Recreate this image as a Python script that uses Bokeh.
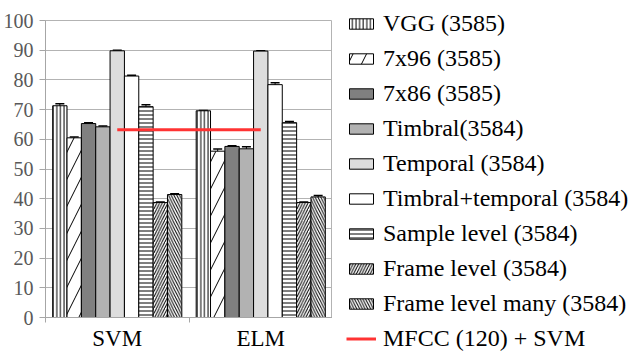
from bokeh.plotting import figure
from bokeh.layouts import row
from bokeh.models import (ColumnDataSource, Range1d, LinearAxis, FixedTicker,
                          Whisker, TeeHead, Legend, LegendItem)
from bokeh.embed import file_html
from bokeh.resources import INLINE

categories = ["SVM", "ELM"]
series = ["VGG (3585)", "7x96 (3585)", "7x86 (3585)", "Timbral(3584)",
          "Temporal (3584)", "Timbral+temporal (3584)", "Sample level (3584)",
          "Frame level (3584)", "Frame level many (3584)"]
svm_values = [71.3, 60.5, 65.3, 64.2, 89.8, 81.3, 71.0, 38.7, 41.4]
elm_values = [69.6, 56.0, 57.6, 56.8, 89.7, 78.4, 65.6, 38.7, 40.6]
svm_errors = [0.7, 0.3, 0.3, 0.3, 0.2, 0.3, 0.6, 0.2, 0.3]
elm_errors = [0.1, 0.7, 0.2, 0.7, 0.1, 0.6, 0.4, 0.2, 0.5]
mfcc_label = "MFCC (120) + SVM"
mfcc_value = 63.2
y_ticks = [0, 10, 20, 30, 40, 50, 60, 70, 80, 90, 100]

fills = ["white", "white", "#808080", "#b2b2b2", "#dddddd", "white", "white", "white", "white"]
hatches = ["vertical_line", "right_diagonal_line", None, None, None, None, "horizontal_line",
           "right_diagonal_line", "left_diagonal_line"]
hatch_scales = [3.6, 27, 12, 12, 12, 12, 4, 5.5, 5.5]
mfcc_color = "#ff3333"

FONT = "Liberation Serif"
GRAY = "#a6a6a6"

ncat = len(categories)
cat_centers = [k + 0.5 for k in range(ncat)]
cat_edges = list(range(ncat + 1))

p = figure(x_range=Range1d(0, ncat), y_range=Range1d(0, 100), width=332, height=362,
           output_backend="svg", toolbar_location=None, x_axis_location=None,
           min_border_left=45, min_border_right=0, min_border_top=20,
           min_border_bottom=45)
p.background_fill_color = "white"
p.border_fill_color = "white"
p.outline_line_color = "#b3b3b3"

tick_axis = LinearAxis(ticker=FixedTicker(ticks=cat_edges),
                       major_label_overrides={e: "" for e in cat_edges},
                       major_label_text_font_size="2px", axis_line_color=GRAY,
                       major_tick_line_color=GRAY, major_tick_out=5, major_tick_in=0,
                       minor_tick_line_color=None, major_label_standoff=0)
p.add_layout(tick_axis, "below")
cat_axis = LinearAxis(ticker=FixedTicker(ticks=cat_centers),
                      major_label_overrides={c: lab for c, lab in zip(cat_centers, categories)},
                      axis_line_color=None, major_tick_line_color=None,
                      minor_tick_line_color=None,
                      major_label_text_font=FONT, major_label_text_font_size="23px",
                      major_label_text_color="black", major_label_standoff=-3)
p.add_layout(cat_axis, "below")

p.yaxis.ticker = FixedTicker(ticks=y_ticks)
p.yaxis.axis_line_color = GRAY
p.yaxis.major_tick_line_color = GRAY
p.yaxis.major_tick_out = 6
p.yaxis.major_tick_in = 0
p.yaxis.minor_tick_line_color = None
p.yaxis.major_label_text_font = FONT
p.yaxis.major_label_text_font_size = "20px"
p.yaxis.major_label_text_color = "#595959"
p.yaxis.major_label_standoff = 6
p.ygrid.grid_line_color = "#b3b3b3"
p.xgrid.visible = False

# separate panel holding only the legend; its renderers are hidden, only their swatches show
lg = figure(x_range=Range1d(0, 1), y_range=Range1d(-2, -1), width=306, height=362,
            output_backend="svg", toolbar_location=None, x_axis_location=None,
            y_axis_location=None, min_border_left=0, min_border_right=0,
            min_border_top=0, min_border_bottom=0)
lg.outline_line_color = None
lg.xgrid.visible = False
lg.ygrid.visible = False
for fig in (p, lg):
    try:
        fig.frame_align = False
    except Exception:
        pass

items = []
n = len(series)
bar_w = 0.9 / n
for i in range(n):
    off = (i - (n - 1) / 2) * bar_w
    src = ColumnDataSource(dict(
        x=[c + off for c in cat_centers],
        top=[svm_values[i], elm_values[i]],
        upper=[svm_values[i] + svm_errors[i], elm_values[i] + elm_errors[i]],
        lower=[svm_values[i] - svm_errors[i], elm_values[i] - elm_errors[i]],
    ))
    kw = {}
    if hatches[i]:
        kw = dict(hatch_pattern=hatches[i], hatch_color="black",
                  hatch_scale=hatch_scales[i], hatch_weight=1)
    p.vbar(x="x", top="top", bottom=0, width=bar_w, source=src,
           fill_color=fills[i], line_color="black", line_width=1, **kw)
    w = Whisker(source=src, base="x", upper="upper", lower="lower",
                line_color="black", line_width=1,
                upper_head=TeeHead(size=9, line_color="black", line_width=1.5),
                lower_head=TeeHead(size=9, line_color="black", line_width=1.5))
    p.add_layout(w)
    kr = lg.vbar(x="x", top="top", bottom=0, width=bar_w, source=src,
                 fill_color=fills[i], line_color="black", line_width=1, **kw)
    kr.visible = False
    items.append(LegendItem(label=series[i], renderers=[kr]))

line_src = ColumnDataSource(dict(x=cat_centers, y=[mfcc_value] * ncat))
p.line(x="x", y="y", source=line_src, line_color=mfcc_color, line_width=3)
kl = lg.line(x="x", y="y", source=line_src, line_color=mfcc_color, line_width=3)
kl.visible = False
items.append(LegendItem(label=mfcc_label, renderers=[kl]))

legend = Legend(items=items, location=(14, 10), border_line_color=None,
                background_fill_alpha=0, padding=0, margin=0, spacing=8,
                label_height=27, glyph_height=13, glyph_width=30, label_standoff=7,
                label_text_font=FONT, label_text_font_size="24px",
                label_text_color="black", inactive_fill_alpha=0)
lg.add_layout(legend)

layout = row(p, lg, spacing=0)
open("out.html", "w").write(file_html(layout, INLINE))
